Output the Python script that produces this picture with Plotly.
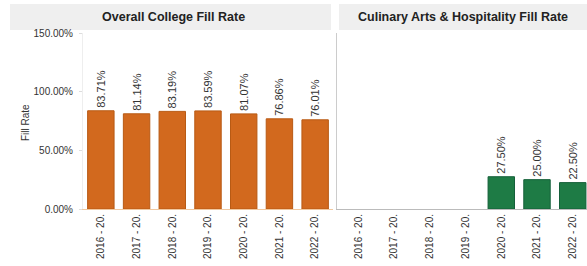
import plotly.graph_objects as go

categories = ["2016 - 20.", "2017 - 20.", "2018 - 20.", "2019 - 20.", "2020 - 20.", "2021 - 20.", "2022 - 20."]
college_rate = [83.71, 81.14, 83.19, 83.59, 81.07, 76.86, 76.01]
culinary_cats = ["2020 - 20.", "2021 - 20.", "2022 - 20."]
culinary_rate = [27.50, 25.00, 22.50]
yticks = [0, 50, 100, 150]
ytick_text = ["0.00%", "50.00%", "100.00%", "150.00%"]

W, H = 587, 266
TOP, BOT = 33, 209
FONT = "Liberation Sans, Arial, sans-serif"


def py(y):
    return (BOT - y) / (BOT - TOP)


fig = go.Figure()
fig.add_trace(go.Bar(
    x=categories, y=college_rate, xaxis="x", yaxis="y",
    marker=dict(color="#D2691E", line=dict(color="#B85A14", width=1)),
    text=[f"{v:.2f}%" for v in college_rate], textposition="outside",
    textangle=-90, constraintext="none", textfont=dict(size=11, color="#333333", family=FONT),
    cliponaxis=False, width=0.74, showlegend=False,
))
fig.add_trace(go.Bar(
    x=culinary_cats, y=culinary_rate, xaxis="x2", yaxis="y2",
    marker=dict(color="#1E7B45", line=dict(color="#15603A", width=1)),
    text=[f"{v:.2f}%" for v in culinary_rate], textposition="outside",
    textangle=-90, constraintext="none", textfont=dict(size=11, color="#333333", family=FONT),
    cliponaxis=False, width=0.74, showlegend=False,
))

xcommon = dict(type="category", categoryorder="array", categoryarray=categories,
               tickangle=-90, tickfont=dict(size=10, color="#333333", family=FONT),
               showgrid=False, zeroline=False, ticks="", showline=True)
fig.update_layout(
    width=W, height=H,
    margin=dict(l=0, r=0, t=TOP, b=H - BOT),
    plot_bgcolor="white", paper_bgcolor="white",
    font=dict(family=FONT, color="#333333"),
    xaxis=dict(domain=[83 / W, 333 / W], range=[-0.5, 6.5], linecolor="#f0c8a0", **xcommon),
    xaxis2=dict(domain=[337 / W, 1.0], range=[-0.6, 6.4], linecolor="#bbbbbb", **xcommon),
    yaxis=dict(range=[0, 150], tickvals=yticks, ticktext=ytick_text,
               tickfont=dict(size=10, color="#333333", family=FONT),
               showgrid=False, zeroline=False, showline=True, linecolor="#eeeeee",
               ticks="outside", ticklen=3, tickcolor="#dddddd", anchor="x",
               ticklabelstandoff=4),
    yaxis2=dict(range=[0, 150], showticklabels=False, showgrid=False, zeroline=False,
                showline=True, linecolor="#cccccc", anchor="x2", matches="y"),
    shapes=[
        dict(type="rect", xref="paper", yref="paper", x0=10 / W, x1=331 / W,
             y0=py(30), y1=py(4), fillcolor="#efefef", line=dict(width=0), layer="below"),
        dict(type="rect", xref="paper", yref="paper", x0=339 / W, x1=1.0,
             y0=py(30), y1=py(4), fillcolor="#efefef", line=dict(width=0), layer="below"),
    ],
    annotations=[
        dict(text="<b>Overall College Fill Rate</b>", xref="paper", yref="paper",
             x=173 / W, y=py(17), showarrow=False, xanchor="center", yanchor="middle",
             font=dict(size=12.5, color="#222222", family=FONT)),
        dict(text="<b>Culinary Arts &amp; Hospitality Fill Rate</b>", xref="paper", yref="paper",
             x=463 / W, y=py(17), showarrow=False, xanchor="center", yanchor="middle",
             font=dict(size=12.5, color="#222222", family=FONT)),
        dict(text="Fill Rate", xref="paper", yref="paper", x=25 / W, y=py(123),
             showarrow=False, textangle=-90, xanchor="center", yanchor="middle",
             font=dict(size=10, color="#333333", family=FONT)),
    ],
)

fig.write_html("out.html", config={"displayModeBar": False},
               post_script="document.body.style.margin='0';")
